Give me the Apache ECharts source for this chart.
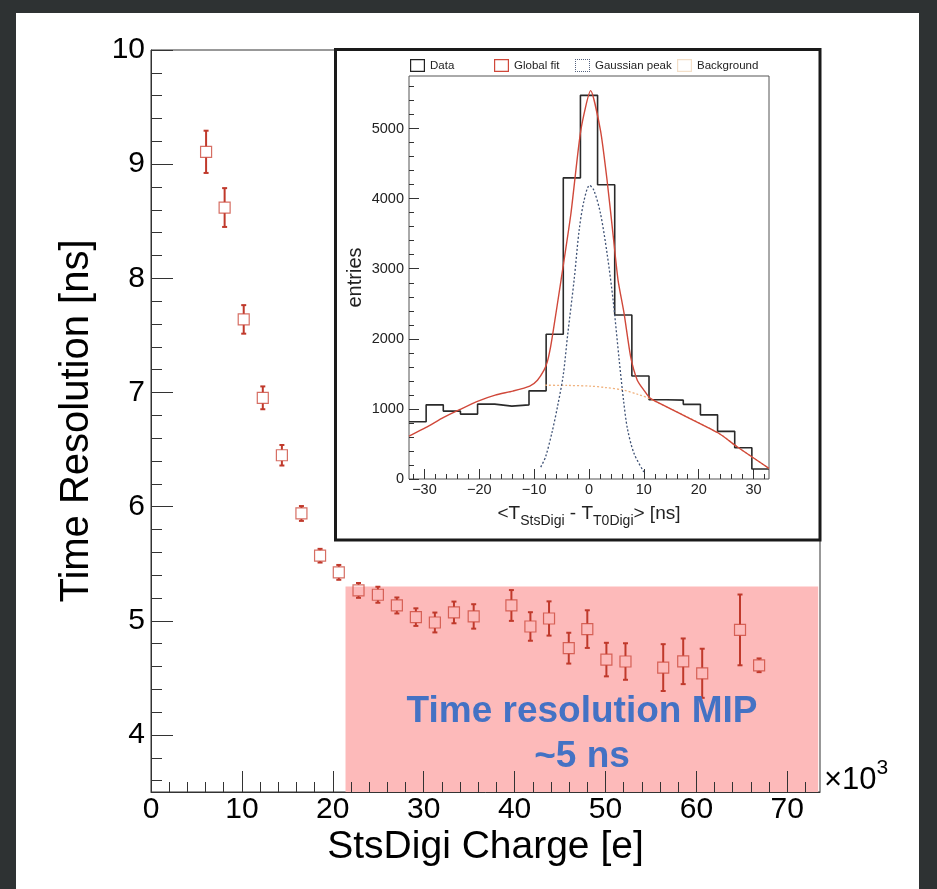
<!DOCTYPE html>
<html><head><meta charset="utf-8">
<script src="https://cdn.jsdelivr.net/npm/echarts@6/dist/echarts.min.js"></script>
<style>
html,body{margin:0;padding:0;background:#2e3233;width:937px;height:889px;overflow:hidden;}
#panel{position:absolute;left:16px;top:13px;width:903px;height:876px;background:#fff;}
#chart{position:absolute;left:0;top:0;width:937px;height:889px;}
</style></head><body>
<div id="panel"></div><div id="chart"></div>
<script>
// ---------- main plot data (charge in units of 10^3 e) ----------
const chargeK = [6.06, 8.1, 10.2, 12.3, 14.4, 16.55, 18.6, 20.66, 22.83, 24.96, 27.05, 29.14, 31.23, 33.33, 35.5, 39.65, 41.74, 43.79, 45.96, 48.0, 50.1, 52.2, 56.35, 58.55, 60.64, 64.8, 66.9];
const timeRes = [9.108, 8.62, 7.64, 6.953, 6.45, 5.94, 5.57, 5.424, 5.266, 5.228, 5.134, 5.032, 4.985, 5.073, 5.038, 5.134, 4.95, 5.02, 4.76, 4.927, 4.66, 4.643, 4.59, 4.645, 4.54, 4.92, 4.61];
const timeResErr = [0.185, 0.17, 0.125, 0.1, 0.09, 0.065, 0.06, 0.065, 0.065, 0.07, 0.07, 0.077, 0.087, 0.095, 0.107, 0.135, 0.125, 0.15, 0.135, 0.165, 0.147, 0.16, 0.205, 0.2, 0.215, 0.31, 0.06];
const mipBand = [21.4, 73.4, 3.5, 5.3]; // x from, x to, y from, y to
const xMajorTicks = [0, 10, 20, 30, 40, 50, 60, 70];
const xMinorTicks = [2, 4, 6, 8, 12, 14, 16, 18, 22, 24, 26, 28, 32, 34, 36, 38, 42, 44, 46, 48, 52, 54, 56, 58, 62, 64, 66, 68, 72];
const yMajorTicks = [4, 5, 6, 7, 8, 9, 10];
const yMinorTicks = [3.6, 3.8, 4.2, 4.4, 4.6, 4.8, 5.2, 5.4, 5.6, 5.8, 6.2, 6.4, 6.6, 6.8, 7.2, 7.4, 7.6, 7.8, 8.2, 8.4, 8.6, 8.8, 9.2, 9.4, 9.6, 9.8];

// ---------- inset histogram data ----------
const histEdges = [-32.8125, -29.6875, -26.5625, -23.4375, -20.3125, -17.1875, -14.0625, -10.9375, -7.8125, -4.6875, -1.5625, 1.5625, 4.6875, 7.8125, 10.9375, 14.0625, 17.1875, 20.3125, 23.4375, 26.5625, 29.6875, 32.8125];
const histCounts = [816, 1058, 969, 926, 1068, 1040, 1058, 1258, 2066, 4297, 5474, 4198, 2340, 1470, 1130, 1125, 1065, 915, 680, 446, 142];
const fitX = [-32.8, -29.7, -26.5, -23.5, -20.1, -17.1, -13.9, -10.8, -9.4, -8.2, -7.6, -7.0, -6.5, -5.1, -3.3, -1.5, 0.3, 2.1, 3.3, 4.5, 5.3, 6.4, 7.6, 8.8, 10.0, 11.2, 23.5, 27.0, 32.8];
const fitY = [612, 736, 879, 993, 1115, 1197, 1254, 1325, 1410, 1553, 1671, 1885, 2123, 2835, 3785, 4972, 5541, 4972, 4259, 3405, 2835, 2360, 1742, 1410, 1268, 1150, 660, 460, 152];
const gausX = [-8.8, -7.9, -6.7, -5.7, -4.7, -3.9, -2.7, -1.8, -0.9, 0.1, 0.9, 2.1, 3.3, 4.4, 5.5, 6.3, 7.0, 8.2, 10.0];
const gausY = [170, 320, 680, 1050, 1480, 2050, 2850, 3547, 3974, 4190, 4117, 3785, 3215, 2550, 1700, 1120, 720, 366, 100];
const bkgX = [-8.0, -4.0, 0.3, 3.0, 6.3, 9.0, 11.2, 23.5, 27.0, 32.8];
const bkgY = [1338, 1335, 1325, 1305, 1268, 1205, 1140, 660, 460, 152];
const insetXTicks = [-30, -20, -10, 0, 10, 20, 30];
const insetXMinor = [-32, -28, -26, -24, -22, -18, -16, -14, -12, -8, -6, -4, -2, 2, 4, 6, 8, 12, 14, 16, 18, 22, 24, 26, 28, 32];
const insetYTicks = [0, 1000, 2000, 3000, 4000, 5000];
const insetYMinor = [200, 400, 600, 800, 1200, 1400, 1600, 1800, 2200, 2400, 2600, 2800, 3200, 3400, 3600, 3800, 4200, 4400, 4600, 4800, 5200, 5400, 5600];
const legendNames = ['Data', 'Global fit', 'Gaussian peak', 'Background'];

const SANS = "'Liberation Sans', Arial, Helvetica, sans-serif";
const boxIcon = 'path://M0,0H15V13H0ZM1.2,1.2V11.8H13.8V1.2Z';
// dotted outline icon for the dotted legend entry
const dotIcon = (function () {
  let p = 'path://M0,0H0.01V0.01H0Z';
  for (let x = 0; x <= 14; x += 2) { p += 'M' + x + ',0h1v1h-1Z' + 'M' + x + ',12h1v1h-1Z'; }
  for (let y = 2; y <= 10; y += 2) { p += 'M0,' + y + 'h1v1h-1Z' + 'M14,' + y + 'h1v1h-1Z'; }
  return p;
})();

const chart = echarts.init(document.getElementById('chart'), null, {renderer: 'canvas'});

function minorAxis(gridIndex, min, max, values, len, pos, z) {
  return {
    type: 'value', gridIndex, min, max, position: pos, z,
    axisLine: {show: false, onZero: false}, splitLine: {show: false}, axisLabel: {show: false},
    axisTick: {show: true, inside: true, length: len, customValues: values, lineStyle: {color: '#333', width: 1}}
  };
}
const minus = v => String(v).replace('-', '\u2212');
const plain = v => String(v);

const option = {
  animation: false,
  backgroundColor: 'transparent',
  grid: [
    {left: 151, top: 50, width: 669, height: 742, show: true, borderColor: '#333', borderWidth: 1, backgroundColor: 'transparent', z: 0, outerBoundsMode: 'none', containLabel: false},
    {left: 409, top: 76, width: 360, height: 403, show: true, borderColor: '#555', borderWidth: 1, backgroundColor: 'transparent', z: 6, outerBoundsMode: 'none', containLabel: false}
  ],
  xAxis: [
    {type: 'value', gridIndex: 0, min: 0, max: 73.6, position: 'bottom', z: 3,
     axisLine: {show: true, onZero: false, lineStyle: {color: '#333', width: 1}},
     axisTick: {show: true, inside: true, length: 21, customValues: xMajorTicks, lineStyle: {color: '#333', width: 1}},
     axisLabel: {customValues: xMajorTicks, formatter: plain, fontSize: 30, fontFamily: SANS, color: '#000', margin: 3},
     splitLine: {show: false},
     name: 'StsDigi Charge [e]', nameLocation: 'middle', nameGap: 36, nameMoveOverlap: false,
     nameTextStyle: {fontSize: 39, fontFamily: SANS, color: '#000', verticalAlign: 'top'}},
    minorAxis(0, 0, 73.6, xMinorTicks, 10, 'bottom', 3),
    {type: 'value', gridIndex: 1, min: -32.8125, max: 32.8125, position: 'bottom', z: 7,
     axisLine: {show: false, onZero: false},
     axisTick: {show: true, inside: true, length: 10, customValues: insetXTicks, lineStyle: {color: '#333', width: 1}},
     axisLabel: {customValues: insetXTicks, formatter: minus, fontSize: 14.5, fontFamily: SANS, color: '#222', margin: 3},
     splitLine: {show: false},
     name: '<T{s|StsDigi} - T{s|T0Digi}> [ns]', nameLocation: 'middle', nameGap: 21, nameMoveOverlap: false,
     nameTextStyle: {fontSize: 19, fontFamily: SANS, color: '#222', lineHeight: 28, verticalAlign: 'top',
       rich: {s: {fontSize: 14, fontFamily: SANS, color: '#222', lineHeight: 14, padding: [14, 0, 0, 0]}}}},
    minorAxis(1, -32.8125, 32.8125, insetXMinor, 5, 'bottom', 7)
  ],
  yAxis: [
    {type: 'value', gridIndex: 0, min: 3.5, max: 10, position: 'left', z: 3,
     axisLine: {show: true, onZero: false, lineStyle: {color: '#333', width: 1}},
     axisTick: {show: true, inside: true, length: 22, customValues: yMajorTicks, lineStyle: {color: '#333', width: 1}},
     axisLabel: {customValues: yMajorTicks, formatter: plain, fontSize: 30, fontFamily: SANS, color: '#000', margin: 6},
     splitLine: {show: false},
     name: 'Time Resolution [ns]', nameLocation: 'middle', nameGap: 54, nameMoveOverlap: false,
     nameTextStyle: {fontSize: 40, fontFamily: SANS, color: '#000'}},
    minorAxis(0, 3.5, 10, yMinorTicks, 11, 'left', 3),
    {type: 'value', gridIndex: 1, min: 0, max: 5750, position: 'left', z: 7,
     axisLine: {show: false, onZero: false},
     axisTick: {show: true, inside: true, length: 10, customValues: insetYTicks, lineStyle: {color: '#333', width: 1}},
     axisLabel: {customValues: insetYTicks, formatter: plain, fontSize: 14.5, fontFamily: SANS, color: '#222', margin: 5},
     splitLine: {show: false},
     name: 'entries', nameLocation: 'middle', nameGap: 44, nameMoveOverlap: false,
     nameTextStyle: {fontSize: 20, fontFamily: SANS, color: '#222'}},
    minorAxis(1, 0, 5750, insetYMinor, 5, 'left', 7)
  ],
  legend: legendNames.map((n, i) => ({
    left: [410, 494, 575, 677][i], top: 59, padding: 0, itemGap: 0, itemWidth: 15, itemHeight: 13,
    selectedMode: false, z: 10,
    textStyle: {fontSize: 11.5, fontFamily: SANS, color: '#222'},
    data: [{name: n, icon: i === 2 ? dotIcon : boxIcon, itemStyle: {color: ['#222', '#d0483a', '#55627e', '#f3dfc8'][i], borderWidth: 0}}]
  })),
  graphic: {elements: [
    {type: 'rect', z: 5, shape: {x: 335.5, y: 49.5, width: 484.5, height: 490.5}, style: {fill: '#fff', stroke: '#1a1a1a', lineWidth: 3}},
    {type: 'text', z: 6, x: 582, y: 712, style: {text: 'Time resolution MIP', font: "bold 37px 'Liberation Sans', Arial, sans-serif", fill: '#4472c4', align: 'center', verticalAlign: 'middle'}},
    {type: 'text', z: 6, x: 582, y: 757, style: {text: '~5 ns', font: "bold 37px 'Liberation Sans', Arial, sans-serif", fill: '#4472c4', align: 'center', verticalAlign: 'middle'}},
    {type: 'text', z: 6, x: 824, y: 780, style: {text: '×10{sup|3}', fontSize: 31, fontFamily: SANS, fill: '#000', align: 'left', verticalAlign: 'middle', lineHeight: 46,
      rich: {sup: {fontSize: 21, fontFamily: SANS, fill: '#000', lineHeight: 22, padding: [0, 0, 24, 0]}}}}
  ]},
  series: [
    {type: 'custom', name: 'band', xAxisIndex: 0, yAxisIndex: 0, z: 1, silent: true,
     encode: {x: [0, 1], y: [2, 3]},
     data: [mipBand],
     renderItem(params, api) {
       const p0 = api.coord([api.value(0), api.value(3)]);
       const p1 = api.coord([api.value(1), api.value(2)]);
       return {type: 'rect', shape: {x: p0[0], y: p0[1], width: p1[0] - p0[0], height: p1[1] - p0[1]}, style: {fill: '#fdbaba'}};
     }},
    {type: 'custom', name: 'errors', xAxisIndex: 0, yAxisIndex: 0, z: 3, silent: true,
     encode: {x: 0, y: 1},
     data: chargeK.map((c, i) => [c, timeRes[i], timeResErr[i]]),
     renderItem(params, api) {
       const x = api.value(0), y = api.value(1), e = api.value(2);
       const c = api.coord([x, y]), t = api.coord([x, y + e]), b = api.coord([x, y - e]);
       const h = 5.5, cap = 2.5, st = {stroke: '#c0392b', lineWidth: 2};
       const ch = [];
       if (c[1] - h > t[1]) ch.push({type: 'line', shape: {x1: c[0], y1: t[1], x2: c[0], y2: c[1] - h}, style: st});
       if (b[1] > c[1] + h) ch.push({type: 'line', shape: {x1: c[0], y1: c[1] + h, x2: c[0], y2: b[1]}, style: st});
       ch.push({type: 'line', shape: {x1: c[0] - cap, y1: t[1], x2: c[0] + cap, y2: t[1]}, style: st});
       ch.push({type: 'line', shape: {x1: c[0] - cap, y1: b[1], x2: c[0] + cap, y2: b[1]}, style: st});
       return {type: 'group', children: ch};
     }},
    {type: 'scatter', name: 'points', xAxisIndex: 0, yAxisIndex: 0, z: 4, silent: true,
     symbol: 'rect', symbolSize: 11,
     itemStyle: {color: 'rgba(0,0,0,0)', borderColor: '#cc4a3c', borderWidth: 1.2},
     data: chargeK.map((c, i) => [c, timeRes[i]])},
    {type: 'line', name: 'Data', xAxisIndex: 2, yAxisIndex: 2, z: 10, step: 'end', symbol: 'none', silent: true,
     lineStyle: {color: '#2a2a2a', width: 1.6}, itemStyle: {color: '#222'},
     data: histEdges.map((e, i) => [e, histCounts[Math.min(i, histCounts.length - 1)]])},
    {type: 'line', name: 'Background', xAxisIndex: 2, yAxisIndex: 2, z: 11, symbol: 'none', smooth: 0.3, silent: true,
     lineStyle: {color: '#f0b27e', width: 1.3, type: [2, 2]}, itemStyle: {color: '#f3dfc8'},
     data: bkgX.map((x, i) => [x, bkgY[i]])},
    {type: 'line', name: 'Gaussian peak', xAxisIndex: 2, yAxisIndex: 2, z: 12, symbol: 'none', smooth: 0.3, silent: true,
     lineStyle: {color: '#3f5275', width: 1.3, type: [2, 2]}, itemStyle: {color: '#55627e'},
     data: gausX.map((x, i) => [x, gausY[i]])},
    {type: 'line', name: 'Global fit', xAxisIndex: 2, yAxisIndex: 2, z: 13, symbol: 'none', smooth: 0.2, silent: true,
     lineStyle: {color: '#d0483a', width: 1.4}, itemStyle: {color: '#d0483a'},
     data: fitX.map((x, i) => [x, fitY[i]])}
  ]
};
chart.setOption(option);
</script>
</body></html>
